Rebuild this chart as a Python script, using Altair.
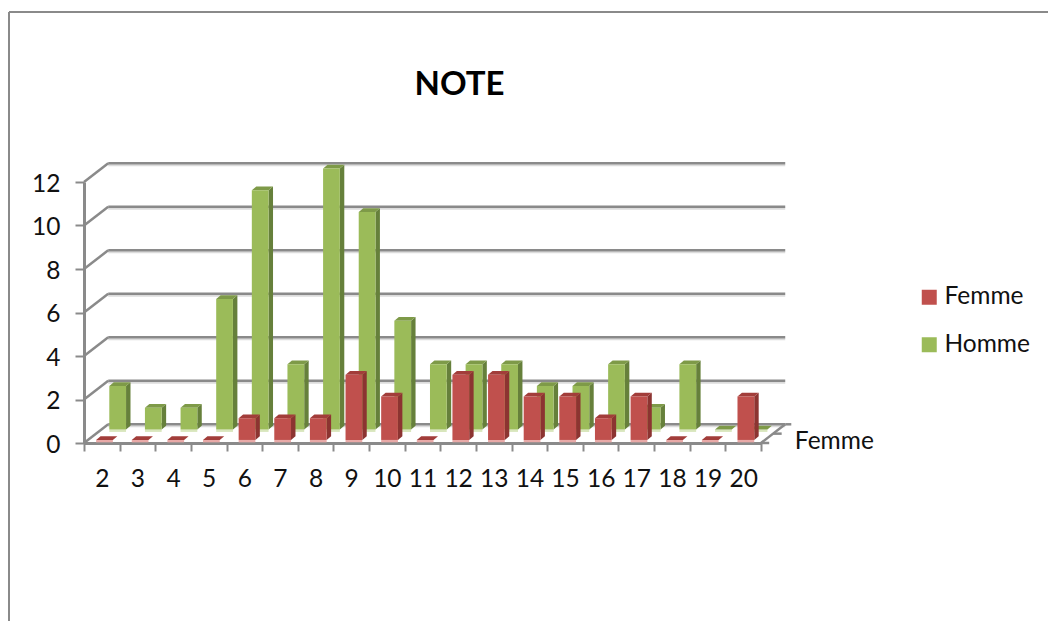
import altair as alt
import pandas as pd

# Grades and how many students of each group obtained them
notes = list(range(2, 21))
femme = [0, 0, 0, 0, 1, 1, 1, 3, 2, 0, 3, 3, 2, 2, 1, 2, 0, 0, 2]
homme = [2, 1, 1, 6, 11, 3, 12, 10, 5, 3, 3, 3, 2, 2, 3, 1, 3, 0, 0]
niveaux = [0, 2, 4, 6, 8, 10, 12]
couleurs = {"Femme": "#C0504D", "Homme": "#9BBB59"}

# Oblique projection, in units of the two axes
MUR_X, MUR_Y = 0.68, 0.86       # depth of the back wall
BARRE_X, BARRE_Y = 0.125, 0.17  # depth of one column
LARGEUR = 0.47
GRIS = "#8a8a8a"
FONT = "Lato"
TAILLE = 24.5


def colonnes(valeurs, serie, decal_x, base):
    """Front, side and top faces of one row of columns."""
    face, cote, dessus = [], [], []
    for i, v in enumerate(valeurs):
        g = i + decal_x
        d = g + LARGEUR
        h = base + v
        face.append(dict(serie=serie, g=g, d=d, h=h, b=base, r=base - 0.11))
        cote += [
            dict(id=i, x=d, y=h, y2=base),
            dict(id=i, x=d + BARRE_X, y=h + BARRE_Y, y2=base + BARRE_Y),
        ]
        dessus += [
            dict(id=i, x=g, y=h, y2=h),
            dict(id=i, x=g + BARRE_X, y=h + BARRE_Y, y2=h),
            dict(id=i, x=d, y=h + BARRE_Y, y2=h),
            dict(id=i, x=d + BARRE_X, y=h + BARRE_Y, y2=h + BARRE_Y),
        ]
    return pd.DataFrame(face), pd.DataFrame(cote), pd.DataFrame(dessus)


x_scale = alt.Scale(domain=[0, 19], nice=False, zero=False)
y_scale = alt.Scale(domain=[0, 12], nice=False, zero=False)

# One axis definition shared by every layer
x_axis = alt.Axis(
    title=None, values=list(range(20)),
    labelExpr="datum.value < 19 ? datum.value + 2 : ''",
    labelOffset=17.8, labelFont=FONT, labelFontSize=TAILLE, labelColor="#111111",
    labelPadding=16, labelAngle=0, labelFlush=False, labelOverlap=False,
    tickSize=8, tickWidth=2, tickColor=GRIS, domainColor=GRIS, domainWidth=3,
    grid=False,
)
y_axis = alt.Axis(
    title=None, values=niveaux, labelFont=FONT, labelFontSize=TAILLE,
    labelColor="#111111", labelPadding=15, labelOffset=2, labelOverlap=False,
    tickSize=9, tickWidth=2, tickColor=GRIS, domainColor=GRIS, domainWidth=3,
    grid=False,
)
X = lambda f: alt.X(f, type="quantitative", scale=x_scale, axis=x_axis)
Y = lambda f: alt.Y(f, type="quantitative", scale=y_scale, axis=y_axis)

couleur = alt.Color(
    "serie:N",
    scale=alt.Scale(domain=list(couleurs), range=list(couleurs.values())),
    legend=alt.Legend(
        title=None, orient="none", legendX=833, legendY=103, symbolType="square",
        symbolSize=225, symbolStrokeWidth=0, symbolOpacity=1, labelFont=FONT,
        labelFontSize=TAILLE, labelColor="#111111", labelOffset=3, rowPadding=22.5,
    ),
)


def rangee(valeurs, serie, decal_x, base, sombre, moyen, reflet):
    face, cote, dessus = colonnes(valeurs, serie, decal_x, base)
    return [
        alt.Chart(face).mark_rect(color=reflet).encode(
            x=X("g"), x2="d", y=Y("b"), y2="r"),
        alt.Chart(cote).mark_area(color=sombre).encode(
            x=X("x"), y=Y("y"), y2="y2", detail="id:N"),
        alt.Chart(dessus).mark_area(color=moyen).encode(
            x=X("x"), y=Y("y"), y2="y2", detail="id:N"),
        alt.Chart(face).mark_rect().encode(
            x=X("g"), x2="d", y=Y("h"), y2="b", color=couleur),
    ]


# Walls and floor
murs = pd.DataFrame([dict(y=v + MUR_Y, x=MUR_X, x2=19 + MUR_X) for v in niveaux])
aretes = pd.DataFrame(
    [dict(x=0, x2=MUR_X, y=v, y2=v + MUR_Y) for v in niveaux]
    + [dict(x=19, x2=19 + MUR_X, y=0, y2=MUR_Y),
       dict(x=19, x2=19.23, y=0, y2=0),
       dict(x=19 + MUR_X / 2, x2=19 + MUR_X / 2 + 0.24, y=MUR_Y / 2, y2=MUR_Y / 2),
       dict(x=19 + MUR_X, x2=19 + MUR_X + 0.17, y=MUR_Y, y2=MUR_Y)]
)
ombre_murs = alt.Chart(murs).mark_rule(color="#dcdcdc", strokeWidth=2, yOffset=2).encode(
    x=X("x"), x2="x2", y=Y("y"))
ligne_murs = alt.Chart(murs).mark_rule(color=GRIS, strokeWidth=2.5).encode(
    x=X("x"), x2="x2", y=Y("y"))
ligne_aretes = alt.Chart(aretes).mark_rule(color=GRIS, strokeWidth=2.5).encode(
    x=X("x"), x2="x2", y=Y("y"), y2="y2")

etiquette = alt.Chart(pd.DataFrame({"x": [19.95], "y": [0.06], "t": ["Femme"]})).mark_text(
    align="left", baseline="middle", font=FONT, fontSize=TAILLE, color="#111111"
).encode(x=X("x"), y=Y("y"), text="t:N")

# Outer frame of the chart
cadre_haut = alt.Chart(pd.DataFrame({"a": [0]})).mark_rule(color=GRIS, strokeWidth=2).encode(
    x=alt.value(-75), x2=alt.value(964), y=alt.value(-170))
cadre_gauche = alt.Chart(pd.DataFrame({"a": [0]})).mark_rule(color=GRIS, strokeWidth=2).encode(
    x=alt.value(-75), y=alt.value(-170), y2=alt.value(439))

couches = [ombre_murs, ligne_murs, ligne_aretes, etiquette, cadre_haut, cadre_gauche]
couches += rangee(homme, "Homme", 0.71, 0.62, "#66803B", "#7E9A48", "#D8E6BC")
couches += rangee(femme, "Femme", 0.34, 0.14, "#8C3431", "#A23D3A", "#E9A9A7")

chart = alt.layer(*couches).properties(
    width=677,
    height=261,
    padding={"left": 84, "top": 182, "right": 287, "bottom": 178},
    autosize=alt.AutoSizeParams(type="none"),
    title=alt.TitleParams(
        "NOTE", font=FONT, fontSize=33, fontWeight="bold", color="#000000",
        anchor="middle", dx=37, offset=0, dy=91,
    ),
).configure_view(stroke=None)

chart.save("out.html", embed_options={"renderer": "svg", "actions": False})
